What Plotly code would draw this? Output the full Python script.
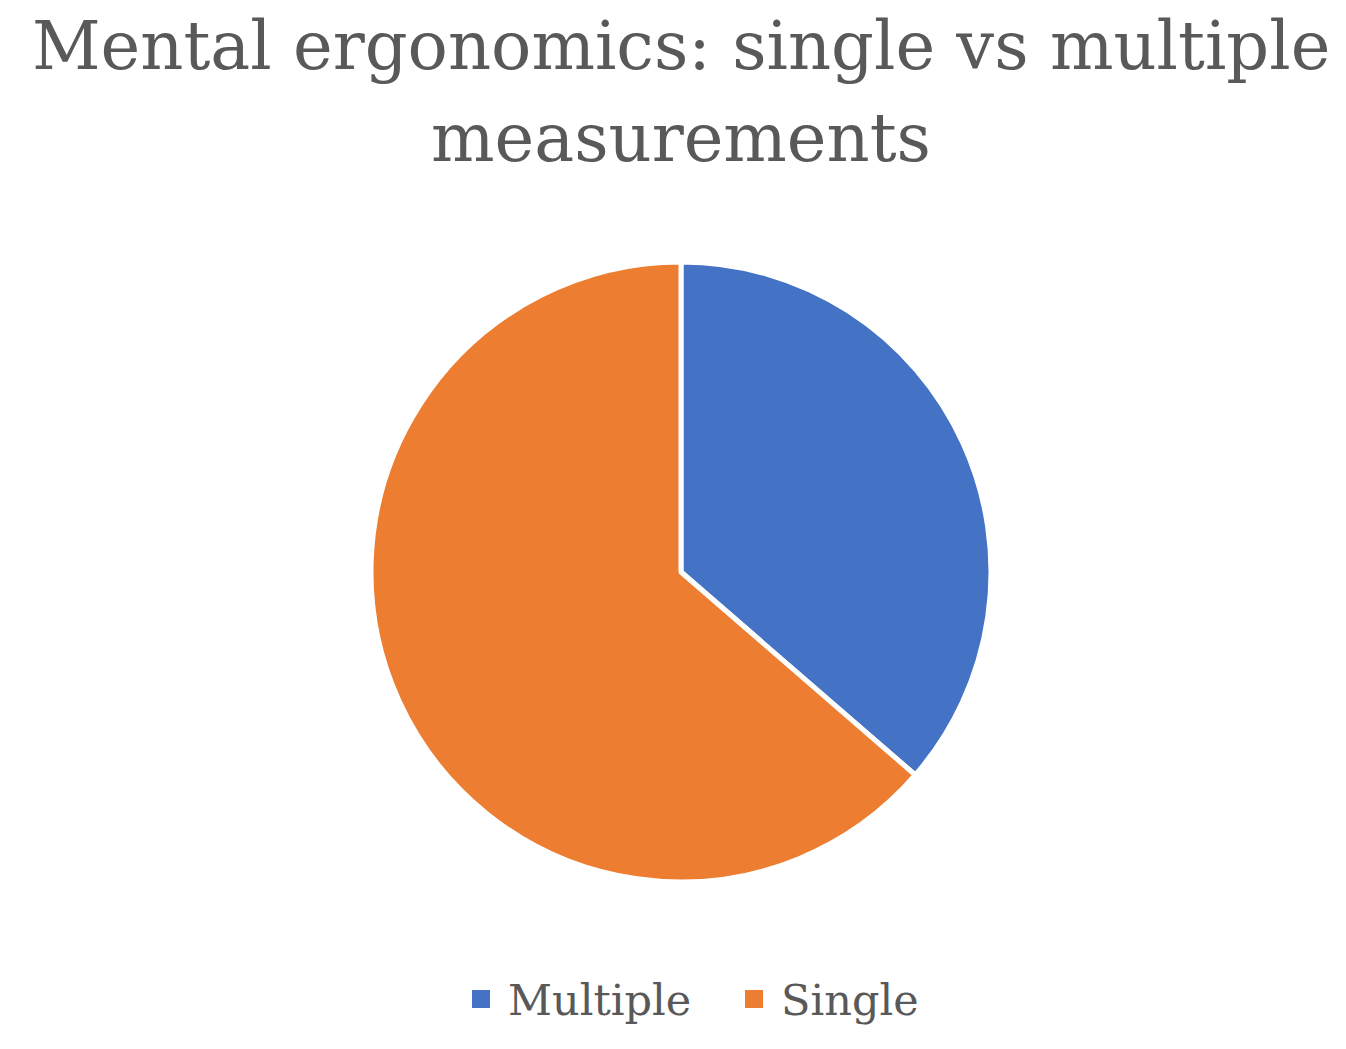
import plotly.graph_objects as go

# slice data
labels = ['Multiple', 'Single']
values = [4, 7]
colors = ['#4472C4', '#ED7D31']

title_lines = ['Mental ergonomics: single vs multiple', 'measurements']

W, H = 1346, 1049
OFF = 8  # page body margin
GREY = '#595959'
FONT = 'DejaVu Serif'


def px_x(x):
    return (x - OFF) / W


def px_y(y):
    return 1 - (y - OFF) / H


fig = go.Figure()
fig.add_trace(go.Pie(
    labels=labels,
    values=values,
    marker=dict(colors=colors, line=dict(color='white', width=5)),
    sort=False,
    direction='clockwise',
    rotation=0,
    textinfo='none',
    hoverinfo='label+value+percent',
    showlegend=False,
    domain=dict(x=[px_x(371), px_x(991)], y=[px_y(882), px_y(262)]),
))

# title, two lines
for line, yc in zip(title_lines, [46, 138]):
    fig.add_annotation(
        text=line, x=0.5, y=px_y(yc), xref='paper', yref='paper',
        xanchor='center', yanchor='middle', showarrow=False,
        font=dict(family=FONT, size=67, color=GREY),
    )

# legend built by hand so the swatches are large
legend_x = [472, 745]
for lab, col, lx in zip(labels, colors, legend_x):
    fig.add_shape(
        type='rect', xref='paper', yref='paper',
        x0=px_x(lx), x1=px_x(lx + 18), y0=px_y(1008), y1=px_y(990),
        fillcolor=col, line=dict(width=0),
    )
    fig.add_annotation(
        text=lab, x=px_x(lx + 34), y=px_y(1000), xref='paper', yref='paper',
        xanchor='left', yanchor='middle', showarrow=False,
        font=dict(family=FONT, size=43, color=GREY),
    )

fig.update_layout(
    width=W,
    height=H,
    paper_bgcolor='white',
    plot_bgcolor='white',
    margin=dict(l=0, r=0, t=0, b=0),
    showlegend=False,
)

fig.write_html('out.html')
